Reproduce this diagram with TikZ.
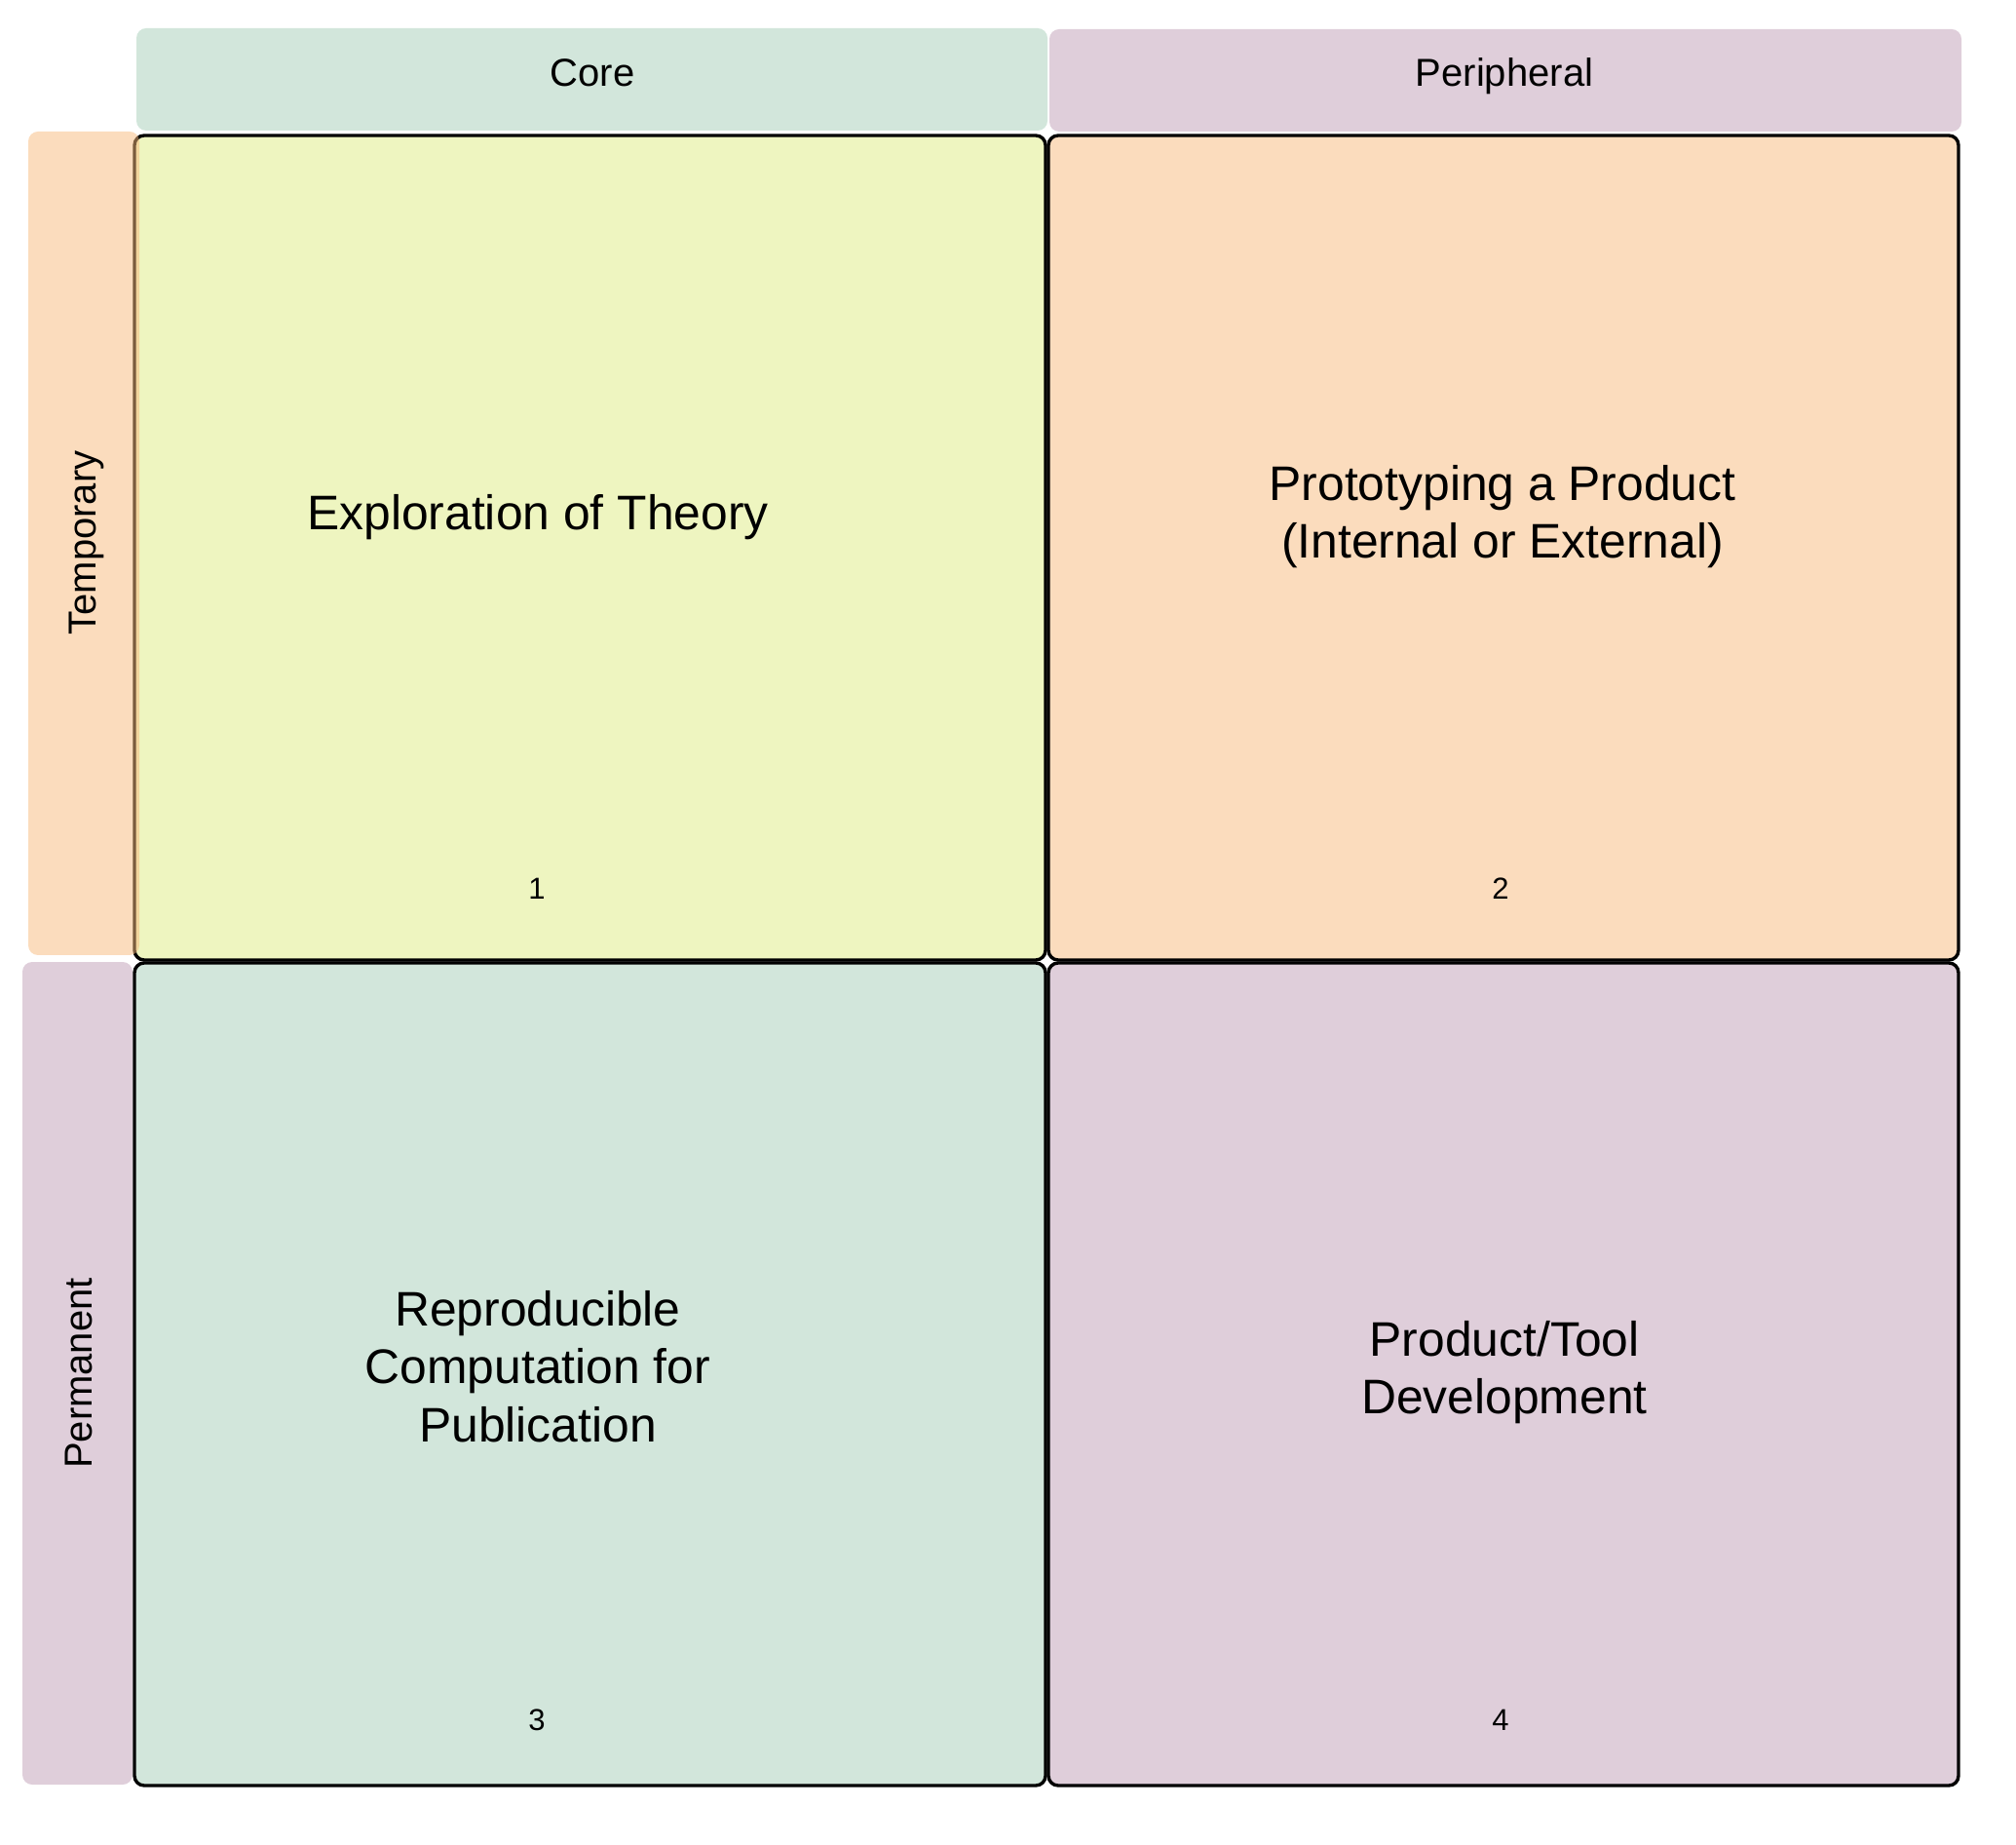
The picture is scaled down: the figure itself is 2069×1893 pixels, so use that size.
\documentclass[tikz,border=0pt]{standalone}
\usepackage{fontspec}
\setmainfont{Liberation Sans}
\definecolor{cgreen}{HTML}{D2E6DB}
\definecolor{cmauve}{HTML}{DFCEDA}
\definecolor{cpeach}{HTML}{FBDCBD}
\definecolor{cpeachdeep}{HTML}{F7B97B}
\definecolor{cyellow}{HTML}{EEF5C0}
\begin{document}
\begin{tikzpicture}[x=0.5pt,y=-0.5pt,
  cell/.style={draw=black,line width=1.7pt,rounded corners=5pt},
  hdr/.style={rounded corners=5pt},
  big/.style={font=\fontsize{24.9}{29.5}\selectfont,anchor=base,inner sep=0pt},
  lab/.style={font=\fontsize{20}{24}\selectfont,anchor=base,inner sep=0pt},
  num/.style={font=\fontsize{15.5}{18}\selectfont,anchor=base,inner sep=0pt}]
\useasboundingbox (0,0) rectangle (2069,1893);
% headers
\fill[hdr,cgreen] (140,29) rectangle (1075,134);
\fill[hdr,cmauve] (1077,30) rectangle (2013,135);
\fill[hdr,cmauve] (23,987) rectangle (136,1831);
% cells
\draw[cell,fill=cyellow] (138,139) rectangle (1073,985);
\draw[cell,fill=cpeach] (1076,139) rectangle (2010,985);
\draw[cell,fill=cgreen] (138,988) rectangle (1073,1832);
\draw[cell,fill=cmauve] (1076,988) rectangle (2010,1832);
% temporary label (semi-transparent, overlapping cell 1 border)
\fill[hdr,cpeachdeep,fill opacity=0.5] (29,135) rectangle (143,980);
% header texts
\node[lab] (core) at (608,89) {Core};
\node[lab] (peri) at (1544,89) {Peripheral};
\node[lab,rotate=90] (temp) at (98,557) {Temporary};
\node[lab,rotate=90] (perm) at (94,1409) {Permanent};
% cell texts
\node[big] (t1) at (552,544) {Exploration of Theory};
\node[big] (t2a) at (1542,514) {Prototyping a Product};
\node[big] (t2b) at (1542,573) {(Internal or External)};
\node[big] (t3a) at (552,1360) {Reproducible};
\node[big] (t3b) at (552,1419) {Computation for};
\node[big] (t3c) at (552,1479) {Publication};
\node[big] (t4a) at (1544,1391) {Product/Tool};
\node[big] (t4b) at (1544,1450) {Development};
% numbers
\node[num] (n1) at (551,923) {1};
\node[num] (n2) at (1540,923) {2};
\node[num] (n3) at (551,1775) {3};
\node[num] (n4) at (1540,1775) {4};
\end{tikzpicture}
\end{document}
